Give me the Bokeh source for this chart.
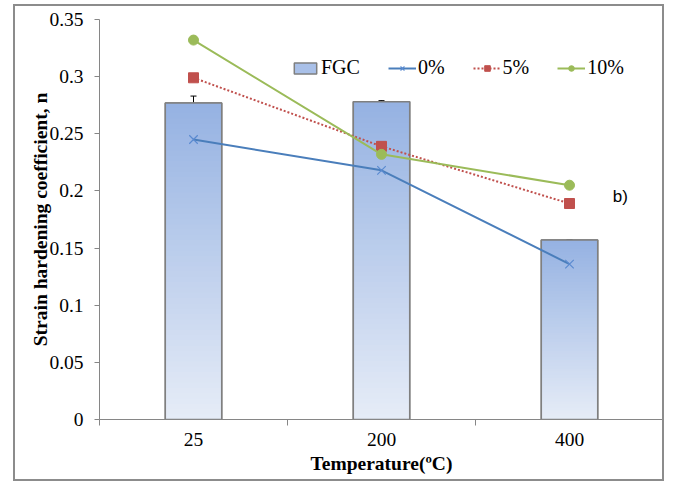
from bokeh.plotting import figure
from bokeh.models import (ColumnDataSource, FixedTicker, NumeralTickFormatter, Range1d,
                          Whisker, TeeHead, Legend, LegendItem, Label)
from bokeh.embed import file_html
from bokeh.resources import INLINE

# ---- data ----
categories = ["25", "200", "400"]
fgc = [0.277, 0.278, 0.157]
fgc_err = [0.006, 0.001, 0.0]
s0 = [0.245, 0.218, 0.136]
s5 = [0.299, 0.239, 0.189]
s10 = [0.332, 0.232, 0.205]
y_ticks = [0, 0.05, 0.1, 0.15, 0.2, 0.25, 0.3, 0.35]

xs = [i + 0.5 for i in range(len(categories))]
BAR_W = 0.3

SERIF = "Liberation Serif"

p = figure(width=651, height=477, output_backend="svg", toolbar_location=None,
           x_range=Range1d(0, 3), y_range=Range1d(0, 0.35),
           min_border_left=84, min_border_right=3, min_border_top=13, min_border_bottom=64)
p.margin = (4, 0, 0, 13)
p.styles = {"border": "2px solid #8c8c8c"}
p.outline_line_color = None
p.xgrid.grid_line_color = None
p.ygrid.grid_line_color = None
p.background_fill_color = "white"
p.border_fill_color = "white"

# ---- bars: base (for legend), gradient slices, outline ----
legend_bar = p.vbar(x=xs, top=fgc, width=BAR_W, fill_color="#a9c0e8", line_color="#7f7f7f", line_width=1.5)

def hex2rgb(h):
    h = h.lstrip("#")
    return tuple(int(h[i:i + 2], 16) for i in (0, 2, 4))

top_c = hex2rgb("#95b2e2")
bot_c = hex2rgb("#e6ecf7")
N = 60
gx, gb, gt, gc = [], [], [], []
for x, h in zip(xs, fgc):
    for k in range(N):
        f = (k + 0.5) / N
        c = tuple(int(round(bot_c[j] + (top_c[j] - bot_c[j]) * f)) for j in range(3))
        gx.append(x)
        gb.append(h * k / N)
        gt.append(min(h, h * (k + 1.6) / N))
        gc.append("#%02x%02x%02x" % c)
p.vbar(x="x", bottom="b", top="t", width=BAR_W, fill_color="c", line_color=None,
       source=ColumnDataSource(dict(x=gx, b=gb, t=gt, c=gc)))
p.vbar(x=xs, top=fgc, width=BAR_W, fill_color=None, line_color="#7f7f7f", line_width=1.5)

# ---- error bars ----
esrc = ColumnDataSource(dict(x=xs, upper=[v + e for v, e in zip(fgc, fgc_err)],
                             lower=[v - e for v, e in zip(fgc, fgc_err)]))
w = Whisker(base="x", upper="upper", lower="lower", source=esrc, line_color="black", line_width=1,
            upper_head=TeeHead(size=6, line_color="black", line_width=1),
            lower_head=TeeHead(size=6, line_color="black", line_width=1))
p.add_layout(w)

# ---- lines ----
l0 = p.line(xs, s0, line_color="#4a7ebb", line_width=2)
m0 = p.scatter(xs, s0, marker="x", size=12, line_color="#5a8ad0", line_width=1.2)
l5 = p.line(xs, s5, line_color="#c0504d", line_width=2, line_dash="2 2")
m5 = p.scatter(xs, s5, marker="square", size=10, fill_color="#c0504d", line_color="#c0504d")
l10 = p.line(xs, s10, line_color="#9bbb59", line_width=2)
m10 = p.scatter(xs, s10, marker="circle", size=10, fill_color="#9bbb59", line_color="#9bbb59")

# ---- axes ----
p.yaxis.ticker = FixedTicker(ticks=y_ticks)
p.yaxis.formatter = NumeralTickFormatter(format="0.[00]")
p.yaxis.axis_label = "Strain hardening coefficient, n"
p.xaxis.ticker = FixedTicker(ticks=xs, minor_ticks=[0, 1, 2, 3])
p.xaxis.major_label_overrides = {x: c for x, c in zip(xs, categories)}
p.xaxis.axis_label = "Temperature(\u00baC)"
for ax in (p.xaxis, p.yaxis):
    ax.axis_line_color = "#868686"
    ax.major_tick_line_color = "#868686"
    ax.minor_tick_line_color = "#868686"
    ax.major_label_text_font = SERIF
    ax.major_label_text_font_size = "19.5px"
    ax.major_label_text_color = "black"
    ax.axis_label_text_font = SERIF
    ax.axis_label_text_font_size = "19.5px"
    ax.axis_label_text_font_style = "bold"
    ax.axis_label_text_color = "black"
p.yaxis.major_tick_in = 0
p.yaxis.major_tick_out = 5
p.yaxis.minor_tick_line_color = None
p.yaxis.major_label_standoff = 11
p.yaxis.axis_label_standoff = -5
p.xaxis.major_tick_in = 0
p.xaxis.major_tick_out = 0
p.xaxis.minor_tick_in = 0
p.xaxis.minor_tick_out = 6
p.xaxis.major_label_standoff = 7
p.xaxis.axis_label_standoff = 4

# ---- legend ----
legend = Legend(items=[
    LegendItem(label="FGC", renderers=[legend_bar]),
    LegendItem(label="0%", renderers=[l0, m0]),
    LegendItem(label="5%", renderers=[l5, m5]),
    LegendItem(label="10%", renderers=[l10, m10]),
], orientation="horizontal", location=(192, 340), border_line_color=None,
   background_fill_alpha=0, padding=0, margin=0, spacing=28, label_standoff=2,
   glyph_width=28, glyph_height=14, label_height=14,
   label_text_font=SERIF, label_text_font_size="20px", label_text_color="black")
p.add_layout(legend, "center")

# ---- annotation "b)" ----
p.add_layout(Label(x=2.73, y=0.195, text="b)", text_font="Liberation Sans",
                   text_font_size="17px", text_baseline="middle", text_align="left",
                   text_color="black"))

open("out.html", "w").write(file_html(p, INLINE))
